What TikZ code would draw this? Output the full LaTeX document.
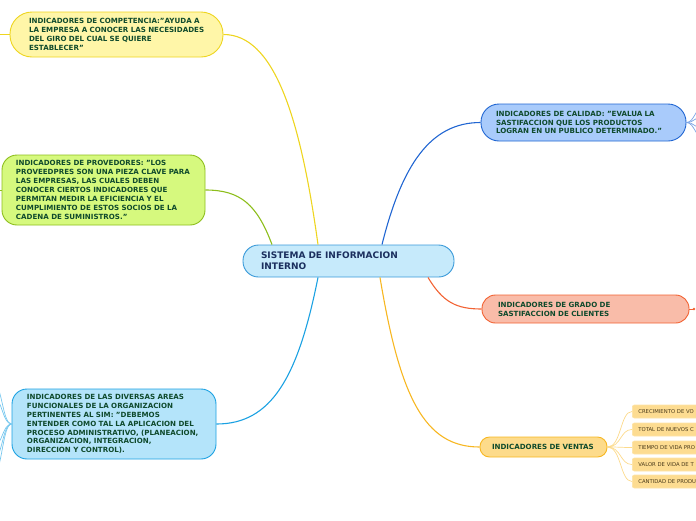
\documentclass[tikz,border=0pt]{standalone}
\usepackage{fontspec}
\setmainfont{DejaVu Sans}
\newcommand{\qq}{\symbol{34}}
\definecolor{txt}{HTML}{0F4A2C}
\definecolor{navy}{HTML}{1B2F5E}
\definecolor{cenf}{HTML}{C6EAFB}\definecolor{cend}{HTML}{3A9AD9}
\definecolor{compf}{HTML}{FFF6A8}\definecolor{compd}{HTML}{EED520}
\definecolor{provf}{HTML}{D6F97E}\definecolor{provd}{HTML}{8DBE1C}
\definecolor{divf}{HTML}{B4E4FA}\definecolor{divd}{HTML}{1BA1E2}
\definecolor{calf}{HTML}{A9CBFB}\definecolor{cald}{HTML}{2166D2}
\definecolor{graf}{HTML}{F9BCA9}\definecolor{grad}{HTML}{F26334}
\definecolor{venf}{HTML}{FDDB8B}\definecolor{vend}{HTML}{F7B722}
\definecolor{subf}{HTML}{FDDC91}\definecolor{subd}{HTML}{FDE3A6}
\definecolor{subt}{HTML}{4A3A1A}
\tikzset{
  topic/.style={draw, line width=0.9pt, font=\bfseries\fontsize{7.1}{8.9}\selectfont, text=txt, align=left, inner ysep=0pt},
  sub/.style={draw=subd, fill=subf, line width=0.7pt, rounded corners=2pt, font=\fontsize{5.3}{6}\selectfont, text=subt, anchor=west, minimum height=13pt, text width=118pt, inner xsep=6pt, align=left},
  link/.style={line width=1.1pt},
  thin/.style={line width=0.7pt}
}
\begin{document}
\begin{tikzpicture}[x=1pt,y=-1pt]
\useasboundingbox (0,0) rectangle (696,520);
\clip (0,0) rectangle (696,520);
% nodes
\node[topic, fill=cenf, draw=cend, rounded corners=15.5pt, minimum width=211pt, minimum height=32pt, inner xsep=18pt, text width=175pt, text=navy, font=\bfseries\fontsize{9}{11}\selectfont] (cen) at (348.5,261) {\mbox{SISTEMA DE INFORMACION}\\INTERNO};
\node[topic, fill=compf, draw=compd, rounded corners=22pt, minimum width=213pt, minimum height=45pt, inner xsep=19pt, text width=175pt] (comp) at (116.5,34.5) {\mbox{INDICADORES DE COMPETENCIA:\qq AYUDA A}\\\mbox{LA EMPRESA A CONOCER LAS NECESIDADES}\\\mbox{DEL GIRO DEL CUAL SE QUIERE}\\\mbox{ESTABLECER\qq}};
\node[topic, fill=provf, draw=provd, rounded corners=15pt, minimum width=203pt, minimum height=70pt, inner xsep=14pt, text width=175pt] (prov) at (103.5,190) {\mbox{INDICADORES DE PROVEDORES: \qq LOS}\\\mbox{PROVEEDPRES SON UNA PIEZA CLAVE PARA}\\\mbox{LAS EMPRESAS, LAS CUALES DEBEN}\\\mbox{CONOCER CIERTOS INDICADORES QUE}\\\mbox{PERMITAN MEDIR LA EFICIENCIA Y EL}\\\mbox{CUMPLIMIENTO DE ESTOS SOCIOS DE LA}\\\mbox{CADENA DE SUMINISTROS.\qq}};
\node[topic, fill=divf, draw=divd, rounded corners=15pt, minimum width=204pt, minimum height=70pt, inner xsep=15pt, text width=174pt] (div) at (114,424) {\mbox{INDICADORES DE LAS DIVERSAS AREAS}\\\mbox{FUNCIONALES DE LA ORGANIZACION}\\\mbox{PERTINENTES AL SIM: \qq DEBEMOS}\\\mbox{ENTENDER COMO TAL LA APLICACION DEL}\\\mbox{PROCESO ADMINISTRATIVO, (PLANEACION,}\\\mbox{ORGANIZACION, INTEGRACION,}\\\mbox{DIRECCION Y CONTROL).}};
\node[topic, fill=calf, draw=cald, rounded corners=18pt, minimum width=205pt, minimum height=37pt, inner xsep=15pt, text width=175pt] (cal) at (583.5,122.5) {\mbox{INDICADORES DE CALIDAD: \qq EVALUA LA}\\\mbox{SASTIFACCION QUE LOS PRODUCTOS}\\\mbox{LOGRAN EN UN PUBLICO DETERMINADO.\qq}};
\node[topic, fill=graf, draw=grad, rounded corners=13.5pt, minimum width=207pt, minimum height=28pt, inner xsep=16pt, text width=175pt] (gra) at (585.5,309) {\mbox{INDICADORES DE GRADO DE}\\\mbox{SASTIFACCION DE CLIENTES}};
\node[topic, fill=venf, draw=vend, rounded corners=9.5pt, minimum width=127pt, minimum height=20pt, inner xsep=12pt, text width=103pt] (ven) at (543.5,447) {\mbox{INDICADORES DE VENTAS}};
% ventas children
\node[sub] (v1) at (632,411.5) {CRECIMIENTO DE VO};
\node[sub] (v2) at (632,429.5) {TOTAL DE NUEVOS C};
\node[sub] (v3) at (632,447.5) {TIEMPO DE VIDA PRO};
\node[sub] (v4) at (632,464.5) {VALOR DE VIDA DE T};
\node[sub] (v5) at (632,481.5) {CANTIDAD DE PRODU};
% off-canvas endpoints
\coordinate (k1) at (704,106); \coordinate (k2) at (704,116);
\coordinate (k3) at (704,129); \coordinate (k4) at (704,139);
\coordinate (g1) at (694,309);
\coordinate (d1) at (-6,384); \coordinate (d2) at (-6,398);
\coordinate (d3) at (-6,446); \coordinate (d4) at (-6,459);
\coordinate (d5) at (-6,473);
\coordinate (c1) at (-4,34.5);
\coordinate (p1) at (-4,190);
% main connectors
\draw[link, compd] ([xshift=-30.5pt]cen.north) .. controls +(-18,-130) and +(50,0) .. (comp.east);
\draw[link, provd] ([xshift=-76.5pt]cen.north) .. controls +(-15,-40) and +(35,0) .. (prov.east);
\draw[link, divd] ([xshift=-30.5pt]cen.south) .. controls +(-20,100) and +(55,0) .. (div.east);
\draw[link, cald] ([xshift=33.5pt]cen.north) .. controls +(20,-80) and +(-50,0) .. (cal.west);
\draw[link, grad] ([xshift=79.5pt]cen.south) .. controls +(15,25) and +(-25,0) .. (gra.west);
\draw[link, vend] ([xshift=31.5pt]cen.south) .. controls +(20,120) and +(-55,0) .. (ven.west);
% ventas fan
\foreach \v in {v1,v2,v3,v4,v5}
  \draw[thin, subd!80!vend] (ven.east) .. controls +(14,0) and +(-12,0) .. (\v.west);
% calidad fan
\foreach \k in {k1,k2,k3,k4}
  \draw[thin, cald!60] (cal.east) .. controls +(8,0) and +(-8,0) .. (\k);
% grado stub
\draw[thin, grad] (gra.east) -- (g1);
\fill[grad] (g1) circle (1.3pt);
% diversas fan
\foreach \d in {d1,d2,d3,d4,d5}
  \draw[thin, divd!60] (div.west) .. controls +(-9,0) and +(8,0) .. (\d);
% left stubs
\draw[link, compd] (comp.west) -- (c1);
\draw[thin, provd] (prov.west) -- (p1);
\end{tikzpicture}
\end{document}
